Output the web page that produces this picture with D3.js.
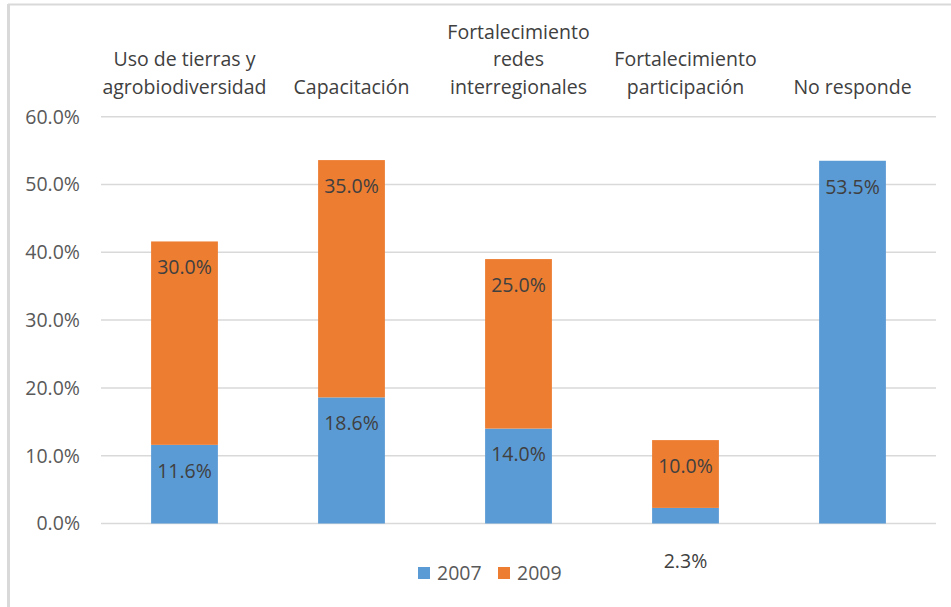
<!DOCTYPE html>
<html>
<head>
<meta charset="utf-8">
<script src="https://cdn.jsdelivr.net/npm/d3@7"></script>
<style>
  body { margin: 0; background: #fff; }
  text { font-family: "Open Sans", sans-serif; }
</style>
</head>
<body>
<div id="chart"></div>
<script>
// data
var categories = ["Uso de tierras y agrobiodiversidad", "Capacitación", "Fortalecimiento redes interregionales", "Fortalecimiento participación", "No responde"]
var categoryLines = [["Uso de tierras y", "agrobiodiversidad"], ["Capacitación"], ["Fortalecimiento", "redes", "interregionales"], ["Fortalecimiento", "participación"], ["No responde"]]
var series = ["2007", "2009"]
var values2007 = [11.6, 18.6, 14.0, 2.3, 53.5]
var values2009 = [30.0, 35.0, 25.0, 10.0, 0]
var yTicks = [0, 10, 20, 30, 40, 50, 60]
var colors = ["#5b9bd5", "#ed7d31"]

var W = 951, H = 607
var svg = d3.select("#chart").append("svg")
    .attr("width", W)
    .attr("height", H)

// frame (only top and left edges visible)
svg.append("line").attr("x1", 8).attr("x2", W).attr("y1", 4.5).attr("y2", 4.5)
    .attr("stroke", "#d9d9d9").attr("stroke-width", 2)
svg.append("line").attr("x1", 8.5).attr("x2", 8.5).attr("y1", 4).attr("y2", H)
    .attr("stroke", "#d9d9d9").attr("stroke-width", 3)

var x = d3.scaleBand()
    .domain(categories)
    .range([101, 936])
    .paddingInner(0.6)
    .paddingOuter(0.3)

var y = d3.scaleLinear()
    .domain([0, 60])
    .range([523.5, 116.7])

// gridlines
svg.append("g").selectAll("line")
    .data(yTicks)
    .enter().append("line")
    .attr("x1", 101).attr("x2", 936)
    .attr("y1", function(d){ return y(d) })
    .attr("y2", function(d){ return y(d) })
    .attr("stroke", "#d9d9d9")
    .attr("stroke-width", 1.5)

// y tick labels
svg.append("g").selectAll("text")
    .data(yTicks)
    .enter().append("text")
    .attr("x", 80)
    .attr("y", function(d){ return y(d) })
    .attr("dy", "0.35em")
    .attr("text-anchor", "end")
    .attr("font-size", 19.5)
    .attr("fill", "#595959")
    .text(function(d){ return d.toFixed(1) + "%" })

// stack
var rows = categories.map(function(c, i){
    return {cat: c, "2007": values2007[i], "2009": values2009[i]}
})
var stacked = d3.stack().keys(series)(rows)

var layers = svg.append("g").selectAll("g")
    .data(stacked)
    .enter().append("g")
    .attr("fill", function(d, i){ return colors[i] })

layers.selectAll("rect")
    .data(function(d){ return d })
    .enter().append("rect")
    .attr("x", function(d){ return x(d.data.cat) })
    .attr("width", x.bandwidth())
    .attr("y", function(d){ return y(d[1]) })
    .attr("height", function(d){ return y(d[0]) - y(d[1]) })

// data labels
stacked.forEach(function(layer){
    layer.forEach(function(d){
        var v = d[1] - d[0]
        if (v <= 0) return
        var segH = y(d[0]) - y(d[1])
        var ly = segH < 30 ? y(0) + 38 : y(d[1]) + 26
        svg.append("text")
            .attr("x", x(d.data.cat) + x.bandwidth() / 2)
            .attr("y", ly)
            .attr("dy", "0.35em")
            .attr("text-anchor", "middle")
            .attr("font-size", 19.5)
            .attr("fill", "#404040")
            .text(v.toFixed(1) + "%")
    })
})

// category labels on top, bottom aligned
var lineH = 27.5
categories.forEach(function(c, i){
    var lines = categoryLines[i]
    var t = svg.append("text")
        .attr("text-anchor", "middle")
        .attr("font-size", 19.5)
        .attr("fill", "#404040")
    lines.forEach(function(l, j){
        t.append("tspan")
            .attr("x", x(c) + x.bandwidth() / 2)
            .attr("y", 87 - (lines.length - 1 - j) * lineH)
            .attr("dy", "0.35em")
            .text(l)
    })
})

// legend
var legend = svg.append("g")
var legX = [418, 498]
series.forEach(function(s, i){
    legend.append("rect")
        .attr("x", legX[i]).attr("y", 567)
        .attr("width", 12).attr("height", 12)
        .attr("fill", colors[i])
    legend.append("text")
        .attr("x", legX[i] + 19)
        .attr("y", 573)
        .attr("dy", "0.35em")
        .attr("font-size", 19.5)
        .attr("fill", "#595959")
        .text(s)
})
</script>
</body>
</html>
